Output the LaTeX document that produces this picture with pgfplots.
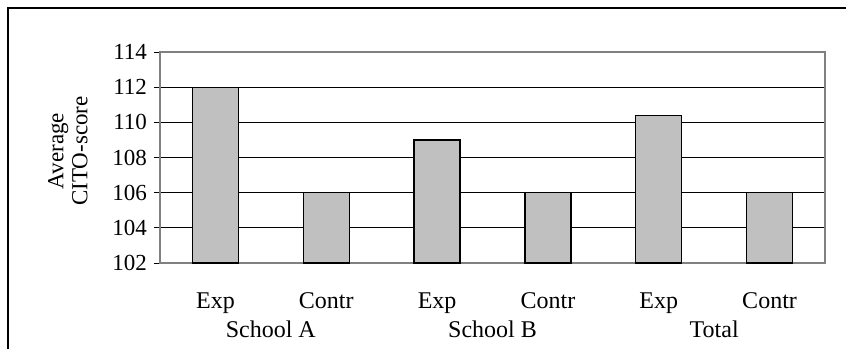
\documentclass[border=0pt]{standalone}
\usepackage{fontspec}
\setmainfont{Liberation Serif}
\usepackage{pgfplots}
\pgfplotsset{compat=1.18}
\definecolor{barfill}{RGB}{192,192,192}
\definecolor{frame}{RGB}{128,128,128}
\begin{document}
\begin{tikzpicture}[font=\fontsize{12pt}{12pt}\selectfont]
\useasboundingbox (0,0) rectangle (423pt,174.5pt);
\draw[line width=1pt] (4pt,0pt) -- (4pt,170.5pt) -- (423pt,170.5pt);
\begin{axis}[
  at={(80pt,43pt)}, anchor=south west,
  scale only axis, width=332.5pt, height=105.5pt,
  xmin=-0.5, xmax=5.5, ymin=102, ymax=114,
  ytick={102,104,...,114},
  xtick={0,1,2,3,4,5},
  xticklabels={Exp,Contr,Exp,Contr,Exp,Contr},
  xticklabel style={anchor=base, yshift=-19.5pt, font=\fontsize{12pt}{12pt}\selectfont},
  yticklabel style={font=\fontsize{11.5pt}{12pt}\selectfont},
  /pgf/number format/assume math mode=true,
  ymajorgrids, major grid style={black, line width=0.5pt},
  axis line style={draw=frame, line width=0.6pt},
  tick align=outside, major tick length=3pt,
  ytick style={black, line width=0.5pt},
  xtick style={draw=none},
  ytick pos=left,
  clip=false,
  ybar, bar width=23pt,
]
\addplot[fill=barfill, draw=black, line width=0.6pt] coordinates {(0,112) (1,106) (2,109) (3,106) (4,110.4) (5,106)};
\node[anchor=base] at (axis cs:0.5,102) [yshift=-37pt] {School A};
\node[anchor=base] at (axis cs:2.5,102) [yshift=-37pt] {School B};
\node[anchor=base] at (axis cs:4.5,102) [yshift=-37pt] {Total};
\end{axis}
\node[rotate=90, align=center, font=\fontsize{11.5pt}{12pt}\selectfont] at (34pt,99pt) {Average\\CITO-score};
\end{tikzpicture}
\end{document}
